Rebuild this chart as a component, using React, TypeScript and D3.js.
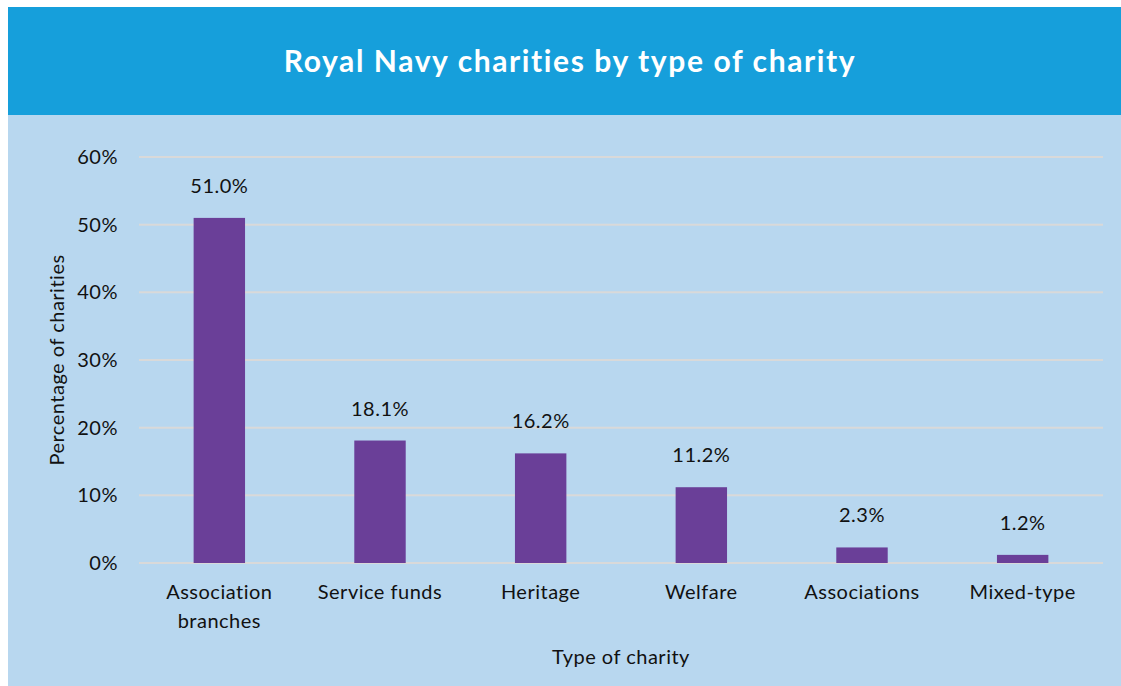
import React from "react";
import * as d3 from "d3";

const categories: string[][] = [
  ["Association", "branches"],
  ["Service funds"],
  ["Heritage"],
  ["Welfare"],
  ["Associations"],
  ["Mixed-type"],
];
const values: number[] = [51.0, 18.1, 16.2, 11.2, 2.3, 1.2];
const yTicks: number[] = [0, 10, 20, 30, 40, 50, 60];
const title = "Royal Navy charities by type of charity";
const xTitle = "Type of charity";
const yTitle = "Percentage of charities";

const W = 1121;
const H = 686;
const FONT = "Lato, 'Open Sans', sans-serif";
const LS = 0.5;

export default function App() {
  const left = 139, right = 1103, top = 157, bottom = 563;
  const x = d3.scaleBand<number>().domain(d3.range(values.length)).range([left, right]).paddingInner(0.68).paddingOuter(0.34);
  const y = d3.scaleLinear().domain([0, 60]).range([bottom, top]);
  return (
    <svg width={W} height={H} style={{ position: "absolute", left: 0, top: 0 }}>
      <rect x={8} y={7} width={W - 8} height={H - 7} fill="#b8d7ef" />
      <rect x={8} y={7} width={W - 8} height={108} fill="#169fdb" />
      <text x={570} y={72} textAnchor="middle" fill="#fff" fontFamily={FONT} fontWeight={700} fontSize={30} letterSpacing={1.6}>{title}</text>
      {yTicks.map((t) => (
        <g key={t}>
          <line x1={left} x2={right} y1={y(t)} y2={y(t)} stroke="#d9d9d9" strokeWidth={2} />
          <text x={118} y={y(t) + 7} textAnchor="end" fontFamily={FONT} fontSize={20} letterSpacing={LS} fill="#111">{t}%</text>
        </g>
      ))}
      {values.map((v, i) => (
        <g key={i}>
          <rect x={x(i)!} y={y(v)} width={x.bandwidth()} height={bottom - y(v)} fill="#6a3f98" />
          <text x={x(i)! + x.bandwidth() / 2} y={y(v) - 25} textAnchor="middle" fontFamily={FONT} fontSize={20} letterSpacing={LS} fill="#111">{v.toFixed(1)}%</text>
          {categories[i].map((line, j) => (
            <text key={j} x={x(i)! + x.bandwidth() / 2} y={599 + j * 29} textAnchor="middle" fontFamily={FONT} fontSize={20} letterSpacing={LS} fill="#111">{line}</text>
          ))}
        </g>
      ))}
      <text x={(left + right) / 2} y={664} textAnchor="middle" fontFamily={FONT} fontSize={20} letterSpacing={LS} fill="#111">{xTitle}</text>
      <text transform={`translate(64, 360) rotate(-90)`} textAnchor="middle" fontFamily={FONT} fontSize={20} letterSpacing={LS} fill="#111">{yTitle}</text>
    </svg>
  );
}
